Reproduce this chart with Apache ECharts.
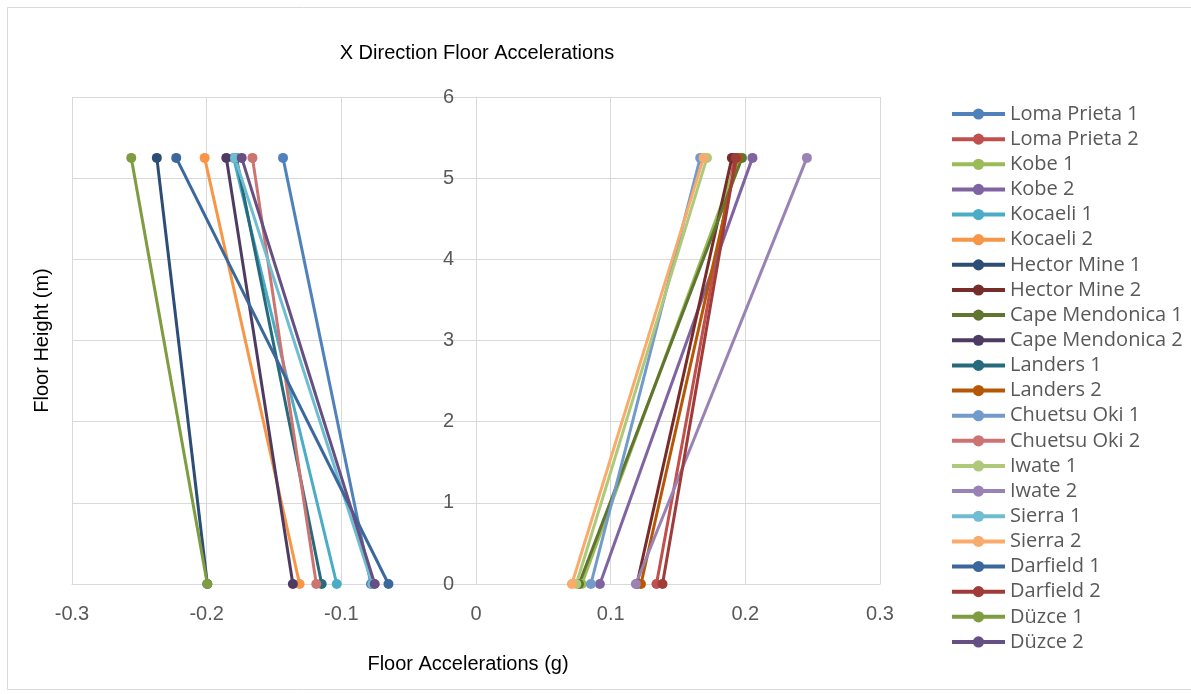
<!DOCTYPE html>
<html>
<head>
<meta charset="utf-8">
<script src="https://cdn.jsdelivr.net/npm/echarts@6/dist/echarts.min.js"></script>
<style>
html,body{margin:0;padding:0;background:#fff;}
#chart{width:1191px;height:694px;}
</style>
</head>
<body>
<div id="chart"></div>
<script>
// ---- data ----
const seriesNames = ['Loma Prieta 1','Loma Prieta 2','Kobe 1','Kobe 2','Kocaeli 1','Kocaeli 2',
  'Hector Mine 1','Hector Mine 2','Cape Mendonica 1','Cape Mendonica 2','Landers 1','Landers 2',
  'Chuetsu Oki 1','Chuetsu Oki 2','Iwate 1','Iwate 2','Sierra 1','Sierra 2',
  'Darfield 1','Darfield 2','Düzce 1','Düzce 2'];
const floorHeights = [0, 5.25];
// acceleration at ground (height 0)
const groundAcc = [-0.078, 0.134, 0.0786, 0.092, -0.1034, -0.131,
  -0.1995, 0.1195, 0.0765, -0.136, -0.1146, 0.1225,
  0.0853, -0.1186, 0.0745, 0.1187, -0.077, 0.0712,
  -0.065, 0.1385, -0.1995, -0.0752];
// acceleration at roof (height 5.25)
const roofAcc = [-0.1433, 0.192, 0.195, 0.2053, -0.180, -0.2015,
  -0.237, 0.190, 0.1975, -0.1854, -0.178, 0.194,
  0.1665, -0.166, 0.1715, 0.2457, -0.179, 0.169,
  -0.2226, 0.193, -0.256, -0.174];
const xTicks = [-0.3, -0.2, -0.1, 0, 0.1, 0.2, 0.3];
const yTicks = [0, 1, 2, 3, 4, 5, 6];

const palette = ['#4F81BD','#C0504D','#9BBB59','#8064A2','#4BACC6','#F79646',
  '#2C4D75','#772C2A','#5F7530','#4D3B62','#276A7C','#B65708',
  '#729ACA','#CD7371','#AFC97A','#9983B5','#6FBDD1','#F9AB6B',
  '#3A679C','#9F3B38','#7E9C40','#664F83'];

const series = seriesNames.map((name, i) => ({
  name: name,
  type: 'line',
  data: [[groundAcc[i], floorHeights[0]], [roofAcc[i], floorHeights[1]]],
  symbol: 'circle',
  symbolSize: 10,
  showSymbol: true,
  lineStyle: {width: 3, color: palette[i]},
  itemStyle: {color: palette[i]},
  emphasis: {disabled: true},
  animation: false
}));

const chart = echarts.init(document.getElementById('chart'));
const axisFont = 'Liberation Sans, sans-serif';
chart.setOption({
  animation: false,
  color: palette,
  title: {
    text: 'X Direction Floor Accelerations',
    left: 472, top: 38, textAlign: 'center',
    textStyle: {fontFamily: axisFont, fontSize: 20, fontWeight: 'normal', color: '#000'}
  },
  graphic: [{
    type: 'rect', shape: {x: 7.5, y: 7.5, width: 1190, height: 682},
    style: {fill: 'none', stroke: '#d9d9d9', lineWidth: 1}, silent: true
  }],
  legend: {
    orient: 'vertical', left: 945, top: 99,
    itemWidth: 53, itemHeight: 14, itemGap: 5.14,
    lineStyle: {width: 4},
    textStyle: {fontFamily: 'Open Sans, sans-serif', fontSize: 20, color: '#595959'},
    data: seriesNames
  },
  grid: {left: 72, right: 311, top: 97, bottom: 110, containLabel: false, outerBoundsMode: 'none'},
  xAxis: {
    type: 'value', min: -0.3, max: 0.3, interval: 0.1,
    name: 'Floor Accelerations (g)', nameLocation: 'middle', nameGap: 70,
    nameTextStyle: {fontFamily: axisFont, fontSize: 20, color: '#000', padding: [0, 16, 0, 0]},
    axisLine: {show: true, onZero: false, lineStyle: {color: '#d9d9d9', width: 1}},
    axisTick: {show: false},
    axisLabel: {
      margin: 20, fontFamily: axisFont, fontSize: 20, color: '#595959',
      formatter: v => { const t = xTicks.find(x => Math.abs(x - v) < 1e-9); return t === 0 ? '0' : String(t); }
    },
    splitLine: {show: true, lineStyle: {color: '#d9d9d9', width: 1}}
  },
  yAxis: {
    type: 'value', min: 0, max: 6, interval: 1, position: 'left', offset: -404,
    name: 'Floor Height (m)', nameLocation: 'middle', nameGap: 424, nameRotate: 90,
    nameTextStyle: {fontFamily: axisFont, fontSize: 20, color: '#000'},
    axisLine: {show: true, onZero: false, lineStyle: {color: '#d9d9d9', width: 1}},
    axisTick: {show: false},
    axisLabel: {
      margin: 22, fontFamily: axisFont, fontSize: 20, color: '#595959',
      formatter: v => String(yTicks.find(y => Math.abs(y - v) < 1e-9))
    },
    splitLine: {show: true, lineStyle: {color: '#d9d9d9', width: 1}}
  },
  series: series
});
</script>
</body>
</html>
